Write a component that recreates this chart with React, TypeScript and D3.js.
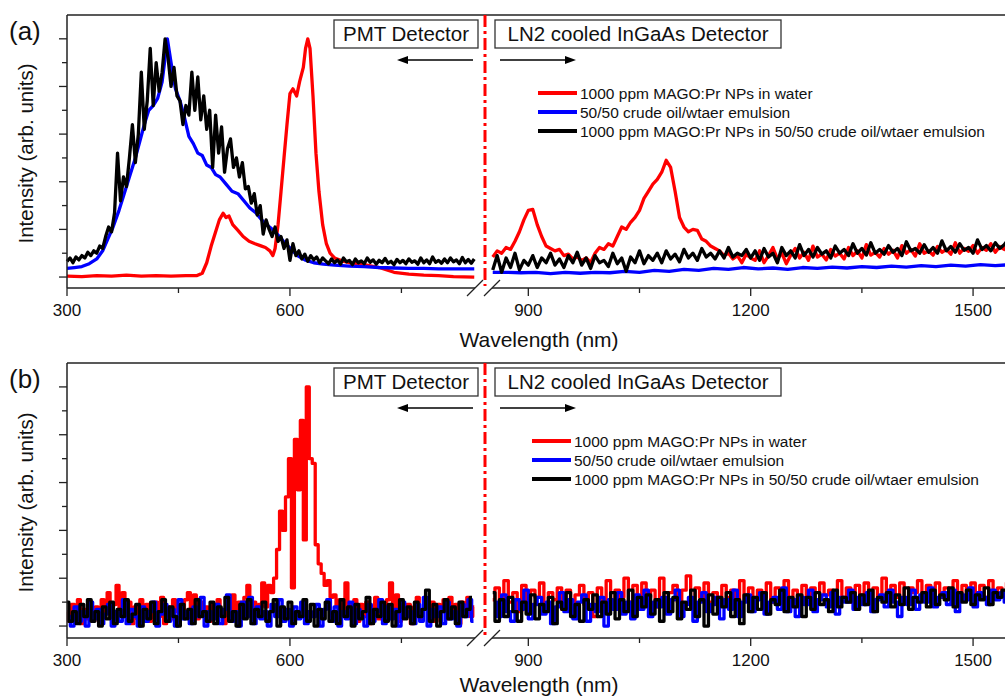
import * as d3 from 'd3'

type Pt = [number, number]
type Series = { pts: Pt[]; stepped?: boolean }

const width = 1005
const height = 698
const font = 'Liberation Sans, Arial, sans-serif'

// x segments of the broken axis (nm)
const leftDomain = [300, 849]
const rightDomain = [851, 1600]
const xMajorLeft = [300, 600]
const xMinorLeft = [450, 750]
const xMajorRight = [900, 1200, 1500]
const xMinorRight = [1050, 1350]
const yMajor = [0, 1, 2, 3, 4, 5]
const yMinor = [0.5, 1.5, 2.5, 3.5, 4.5]

const legendLabels = [
  '1000 ppm MAGO:Pr NPs in water',
  '50/50 crude oil/wtaer emulsion',
  '1000 ppm MAGO:Pr NPs in 50/50 crude oil/wtaer emulsion',
]
const colors = ['#ff0000', '#0000ff', '#000000']

// ---- panel (a) ----
const aRedLeft: Pt[] = [
  [300, 0.02], [320, 0.01], [340, 0.03], [360, 0.02], [380, 0.04], [400, 0.02], [420, 0.03], [440, 0.02],
  [460, 0.03], [475, 0.03], [482, 0.08], [488, 0.3], [494, 0.65], [500, 0.95], [505, 1.2], [510, 1.34],
  [514, 1.25], [518, 1.28], [523, 1.1], [530, 0.98], [537, 0.85], [545, 0.75], [553, 0.7], [560, 0.66],
  [567, 0.62], [573, 0.55], [577, 0.45], [580, 0.6], [584, 1.1], [588, 1.8], [592, 2.5], [596, 3.2],
  [600, 3.85], [604, 3.95], [609, 3.8], [613, 4.1], [618, 4.4], [621, 4.8], [624, 5.0], [627, 4.8],
  [631, 3.8], [635, 2.6], [639, 1.8], [644, 1.1], [649, 0.7], [654, 0.5], [660, 0.4], [670, 0.34],
  [680, 0.3], [700, 0.26], [720, 0.2], [740, 0.1], [760, 0.06], [780, 0.04], [800, 0.03], [820, 0.01],
  [848, 0.0],
]
const aBlueLeft: Pt[] = [
  [300, 0.18], [310, 0.2], [320, 0.22], [330, 0.28], [340, 0.38], [348, 0.55], [355, 0.8], [362, 1.05],
  [370, 1.4], [378, 1.8], [385, 2.15], [392, 2.5], [398, 2.85], [404, 3.2], [410, 3.5], [416, 3.6],
  [422, 3.75], [428, 4.1], [432, 4.6], [435, 5.0], [438, 4.7], [442, 4.3], [446, 3.95], [452, 3.7],
  [458, 3.35], [464, 2.95], [470, 2.8], [476, 2.6], [482, 2.55], [488, 2.35], [494, 2.3], [500, 2.15],
  [506, 2.1], [514, 1.95], [522, 1.8], [530, 1.75], [538, 1.6], [546, 1.45], [554, 1.35], [562, 1.2],
  [570, 1.08], [578, 0.98], [586, 0.85], [594, 0.7], [602, 0.58], [610, 0.45], [620, 0.36], [632, 0.3],
  [645, 0.27], [660, 0.25], [680, 0.23], [700, 0.22], [720, 0.2], [740, 0.19], [760, 0.18], [780, 0.18],
  [800, 0.17], [820, 0.17], [848, 0.17],
]
// 300 nm, every 4 nm
const aBlackLeft = [
  0.33, 0.4, 0.3, 0.42, 0.36, 0.45, 0.4, 0.52, 0.45, 0.55,
  0.5, 0.65, 0.6, 0.85, 1.05, 0.95, 1.35, 2.6, 1.6, 2.1,
  1.9, 2.5, 3.2, 2.4, 3.0, 4.3, 3.1, 3.7, 4.8, 3.6,
  4.5, 3.9, 4.3, 5.0, 4.6, 4.0, 4.4, 3.8, 3.7, 3.2,
  3.6, 3.4, 4.3, 3.5, 4.2, 3.3, 3.8, 3.1, 3.5, 2.3,
  3.4, 2.6, 3.15, 2.2, 2.7, 2.9, 2.3, 2.5, 2.1, 2.4,
  1.85, 1.9, 1.55, 1.75, 1.3, 1.5, 0.9, 1.2, 1.0, 0.85,
  1.05, 0.75, 0.85, 0.6, 0.78, 0.35, 0.7, 0.45, 0.55, 0.38,
  0.48, 0.33, 0.45, 0.36, 0.42, 0.3, 0.4,
  0.34, 0.28, 0.38, 0.3, 0.36, 0.27, 0.4, 0.32, 0.35, 0.26,
  0.38, 0.3, 0.34, 0.28, 0.4, 0.31, 0.36, 0.27, 0.35, 0.3,
  0.39, 0.29, 0.33, 0.26, 0.37, 0.3, 0.35, 0.28, 0.38, 0.31,
  0.34, 0.27, 0.4, 0.3, 0.36, 0.28, 0.42, 0.31, 0.35, 0.29,
  0.38, 0.3, 0.4, 0.32, 0.36, 0.28, 0.41, 0.3, 0.37, 0.29, 0.38,
]
// 852 nm, every 6 nm
const aRedRight = [
  0.42, 0.55, 0.5, 0.62, 0.58, 0.75, 0.95, 1.2, 1.4, 1.42,
  1.1, 0.85, 0.65, 0.6, 0.55, 0.58, 0.45, 0.48, 0.38, 0.42,
  0.35, 0.4, 0.3, 0.5, 0.62, 0.58, 0.7, 0.65, 0.85, 1.05,
  1.0, 1.15, 1.25, 1.4, 1.65, 1.8, 1.95, 2.05, 2.2, 2.45,
  2.3, 1.8, 1.25, 1.05, 0.95, 1.0, 0.98, 0.8, 0.75, 0.65,
  0.6, 0.55, 0.45, 0.5, 0.38, 0.45, 0.3, 0.48, 0.4,
  0.35, 0.55, 0.3, 0.45, 0.62, 0.38, 0.5, 0.28, 0.46, 0.6,
  0.4, 0.52, 0.35, 0.65, 0.42, 0.48, 0.36, 0.58, 0.44, 0.5,
  0.38, 0.62, 0.45, 0.55, 0.4, 0.68, 0.46, 0.52, 0.42, 0.6,
  0.48, 0.56, 0.4, 0.66, 0.5, 0.58, 0.44, 0.7, 0.5, 0.55,
  0.46, 0.64, 0.52, 0.58, 0.48, 0.72, 0.5, 0.6, 0.54, 0.66,
  0.5, 0.62, 0.56, 0.7, 0.52, 0.64, 0.58, 0.72,
]
const aBlueRight: Pt[] = [
  [852, 0.1], [870, 0.1], [890, 0.09], [910, 0.1], [930, 0.07], [950, 0.1], [970, 0.08], [990, 0.1],
  [1010, 0.09], [1030, 0.12], [1050, 0.1], [1070, 0.14], [1090, 0.12], [1110, 0.16], [1130, 0.14],
  [1150, 0.18], [1170, 0.16], [1190, 0.2], [1210, 0.17], [1230, 0.19], [1250, 0.16], [1270, 0.2],
  [1290, 0.18], [1310, 0.21], [1330, 0.19], [1350, 0.22], [1370, 0.2], [1390, 0.23], [1410, 0.21],
  [1430, 0.24], [1450, 0.22], [1470, 0.25], [1490, 0.23], [1510, 0.26], [1530, 0.24], [1550, 0.26],
]
// 852 nm, every 6 nm
const aBlackRight = [
  0.15, 0.45, 0.1, 0.4, 0.2, 0.5, 0.15, 0.35, 0.25, 0.45,
  0.2, 0.4, 0.3, 0.5, 0.25, 0.38, 0.2, 0.45, 0.3, 0.52,
  0.25, 0.4, 0.18, 0.45, 0.3, 0.35, 0.22, 0.5, 0.28, 0.4,
  0.12, 0.42, 0.3, 0.55, 0.28, 0.45, 0.35, 0.5, 0.3, 0.55,
  0.38, 0.48, 0.32, 0.58, 0.4, 0.5, 0.35, 0.6, 0.42, 0.5,
  0.38, 0.55, 0.4, 0.62, 0.42, 0.5, 0.45, 0.58, 0.4,
  0.55, 0.35, 0.6, 0.42, 0.5, 0.3, 0.62, 0.45, 0.55, 0.4,
  0.68, 0.45, 0.58, 0.42, 0.62, 0.48, 0.55, 0.4, 0.65, 0.5,
  0.58, 0.45, 0.7, 0.5, 0.6, 0.46, 0.72, 0.5, 0.58, 0.48,
  0.66, 0.52, 0.6, 0.45, 0.74, 0.55, 0.6, 0.5, 0.68, 0.52,
  0.62, 0.5, 0.76, 0.55, 0.64, 0.52, 0.7, 0.56, 0.62, 0.5,
  0.78, 0.58, 0.66, 0.55, 0.72, 0.6, 0.68, 0.8,
]

// ---- panel (b) ----
// 300 nm, every 4 nm
const bRedLeft = [
  0.3, 0.1, 0.45, 0.2, 0.55, 0.05, 0.35, 0.15, 0.5, 0.25,
  0.4, 0.1, 0.55, 0.3, 0.7, 0.2, 0.45, 0.85, 0.35, 0.7,
  0.2, 0.5, 0.05, 0.4, 0.15, 0.55, 0.25, 0.45, 0.1, 0.35,
  0.5, 0.2, 0.6, 0.05, 0.4, 0.15, 0.55, 0.3, 0.45, 0.2,
  0.55, 0.7, 0.3, 0.65, 0.15, 0.5, 0.25, 0.4, 0.1, 0.45,
  0.2, 0.55, 0.35, 0.05, 0.45, 0.3, 0.65, 0.15, 0.5, 0.25,
  0.6, 0.85, 0.3, 0.5, 0.2, 0.45,
  0.9, 0.4, 0.85, 0.7, 1.0, 1.6, 2.4, 2.0, 2.7, 3.5,
  0.8, 3.9, 2.85, 4.3, 1.8, 5.0, 3.5, 3.4, 1.7, 1.3,
  1.1, 0.85, 0.95, 0.6, 0.65, 0.4, 0.55, 0.3, 0.9, 0.45,
  0.3, 0.55, 0.1, 0.45, 0.2, 0.5, 0.05, 0.35, 0.6, 0.15,
  0.45, 0.25, 0.55, 0.9, 0.3, 0.65, 0.1, 0.5, 0.2, 0.45,
  0.05, 0.4, 0.6, 0.15, 0.35, 0.55, 0.2, 0.5, 0.1, 0.45,
  0.3, 0.55, 0.15, 0.6, 0.25, 0.45, 0.05, 0.5, 0.35, 0.6,
  0.2, 0.4,
]
// 302 nm, every 5 nm
const bBlueLeft = [
  0.2, 0.0, 0.4, 0.1, 0.3, 0.0, 0.5, 0.15, 0.35, 0.05,
  0.25, 0.45, 0.0, 0.3, 0.1, 0.55, 0.05, 0.35, 0.2, 0.0,
  0.4, 0.1, 0.3, 0.5, 0.0, 0.25, 0.45, 0.1, 0.35, 0.0,
  0.55, 0.15, 0.3, 0.05, 0.4, 0.2, 0.6, 0.0, 0.3, 0.15,
  0.45, 0.05, 0.35, 0.65, 0.1, 0.3, 0.0, 0.5, 0.2, 0.6,
  0.05, 0.4, 0.15, 0.3, 0.0, 0.45, 0.2, 0.55, 0.1, 0.35,
  0.0, 0.4, 0.15, 0.5, 0.05, 0.3, 0.2, 0.45, 0.0, 0.35,
  0.55, 0.1, 0.4, 0.0, 0.3, 0.15, 0.5, 0.05, 0.35, 0.2,
  0.0, 0.45, 0.1, 0.3, 0.55, 0.05, 0.4, 0.15, 0.35, 0.0,
  0.5, 0.2, 0.3, 0.05, 0.45, 0.1, 0.6, 0.0, 0.35, 0.2,
  0.4, 0.05, 0.5, 0.15, 0.3, 0.0, 0.45, 0.2, 0.55, 0.1,
]
// 300 nm, every 5 nm
const bBlackLeft = [
  0.5, 0.1, 0.3, 0.05, 0.45, 0.2, 0.55, 0.1, 0.3, 0.0,
  0.4, 0.15, 0.5, 0.05, 0.35, 0.2, 0.55, 0.1, 0.25, 0.45,
  0.0, 0.35, 0.15, 0.5, 0.05, 0.3, 0.55, 0.1, 0.4, 0.2,
  0.0, 0.45, 0.15, 0.35, 0.05, 0.55, 0.2, 0.3, 0.1, 0.5,
  0.05, 0.4, 0.2, 0.6, 0.1, 0.3, 0.0, 0.45, 0.15, 0.55,
  0.05, 0.35, 0.2, 0.5, 0.1, 0.3, 0.55, 0.0, 0.4, 0.15,
  0.5, 0.05, 0.3, 0.2, 0.55, 0.1, 0.45, 0.0, 0.35, 0.15,
  0.5, 0.1, 0.3, 0.05, 0.55, 0.2, 0.4, 0.0, 0.45, 0.15,
  0.3, 0.6, 0.05, 0.35, 0.2, 0.5, 0.1, 0.45, 0.0, 0.3,
  0.55, 0.15, 0.4, 0.05, 0.5, 0.2, 0.35, 0.75, 0.1, 0.45,
  0.0, 0.3, 0.55, 0.15, 0.4, 0.05, 0.5, 0.2, 0.35, 0.6,
]
// 852 nm, every 6 nm
const bRedRight = [
  0.55, 0.8, 0.35, 0.95, 0.5, 0.7, 0.3, 0.85, 0.45, 0.75,
  0.6, 0.9, 0.4, 0.7, 0.55, 0.8, 0.35, 0.75, 0.5, 0.65,
  0.85, 0.45, 0.7, 0.2, 0.8, 0.55, 0.95, 0.4, 0.75, 0.6,
  1.0, 0.5, 0.85, 0.45, 0.9, 0.6, 0.75, 0.4, 1.0, 0.55,
  0.7, 0.85, 0.5, 0.75, 1.05, 0.45, 0.8, 0.6, 0.9, 0.5,
  0.7, 0.45, 0.85, 0.6, 0.75, 0.5, 0.95, 0.55, 0.8, 0.4,
  0.75, 0.6, 0.9, 0.5, 0.8, 0.65, 0.95, 0.55, 0.75, 0.45,
  0.85, 0.6, 0.8, 0.5, 0.9, 0.65, 0.75, 0.55, 0.95, 0.6,
  0.8, 0.5, 0.85, 0.65, 0.9, 0.55, 0.8, 0.6, 1.0, 0.65,
  0.85, 0.6, 0.9, 0.55, 0.8, 0.7, 0.95, 0.6, 0.85, 0.65,
  0.9, 0.6, 0.8, 0.7, 0.95, 0.55, 0.85, 0.65, 0.9, 0.7,
  0.85, 0.6, 0.95, 0.7, 0.8, 0.65, 0.9,
]
// 855 nm, every 6 nm
const bBlueRight = [
  0.5, 0.2, 0.65, 0.3, 0.1, 0.55, 0.35, 0.75, 0.15, 0.45,
  0.6, 0.25, 0.5, 0.05, 0.4, 0.7, 0.3, 0.55, 0.15, 0.5,
  0.65, 0.1, 0.45, 0.3, 0.6, 0.0, 0.55, 0.35, 0.7, 0.25,
  0.5, 0.15, 0.65, 0.35, 0.75, 0.2, 0.5, 0.4, 0.6, 0.25,
  0.55, 0.75, 0.2, 0.45, 0.6, 0.1, 0.5, 0.7, 0.3, 0.45,
  0.6, 0.15, 0.55, 0.35, 0.75, 0.2, 0.5, 0.65, 0.3, 0.55,
  0.7, 0.25, 0.5, 0.6, 0.35, 0.8, 0.3, 0.55, 0.2, 0.6,
  0.45, 0.75, 0.3, 0.55, 0.65, 0.4, 0.7, 0.25, 0.6, 0.5,
  0.75, 0.35, 0.6, 0.45, 0.7, 0.3, 0.55, 0.65, 0.4, 0.75,
  0.5, 0.2, 0.6, 0.45, 0.75, 0.35, 0.65, 0.5, 0.8, 0.4,
  0.6, 0.7, 0.45, 0.75, 0.3, 0.65, 0.55, 0.8, 0.4, 0.7,
  0.6, 0.45, 0.75, 0.55, 0.7, 0.5, 0.65,
]
// 852 nm, every 6 nm
const bBlackRight = [
  0.7, 0.1, 0.55, 0.2, 0.6, 0.3, 0.1, 0.5, 0.25, 0.65,
  0.15, 0.45, 0.3, 0.6, 0.05, 0.5, 0.35, 0.7, 0.2, 0.45,
  0.1, 0.55, 0.35, 0.65, 0.2, 0.5, 0.25, 0.7, 0.15, 0.55,
  0.3, 0.75, 0.2, 0.6, 0.4, 0.65, 0.25, 0.55, 0.1, 0.7,
  0.3, 0.6, 0.15, 0.5, 0.35, 0.75, 0.2, 0.55, 0.0, 0.65,
  0.25, 0.6, 0.4, 0.7, 0.2, 0.55, 0.05, 0.65, 0.3, 0.6,
  0.35, 0.7, 0.25, 0.55, 0.45, 0.75, 0.3, 0.6, 0.4, 0.65,
  0.2, 0.6, 0.35, 0.7, 0.45, 0.55, 0.3, 0.75, 0.4, 0.6,
  0.5, 0.7, 0.35, 0.65, 0.45, 0.75, 0.3, 0.6, 0.5, 0.7,
  0.4, 0.65, 0.45, 0.8, 0.35, 0.6, 0.5, 0.7, 0.4, 0.75,
  0.45, 0.65, 0.55, 0.8, 0.4, 0.7, 0.5, 0.75, 0.45, 0.65,
  0.55, 0.8, 0.45, 0.7, 0.6, 0.75, 0.5,
]

// noisy grids; `stepped` draws them with flat-topped steps like the scan data
const grid = (start: number, step: number, values: number[], stepped = false): Series => ({
  pts: values.map((v, i) => [start + i * step, v] as Pt),
  stepped,
})
const smooth = (pts: Pt[]): Series => ({ pts })

const xLeft = d3.scaleLinear().domain(leftDomain).range([67, 475])
const xRight = d3.scaleLinear().domain(rightDomain).range([492, 1047.2])

const axisColor = '#222'

function Arrow({ x1, x2, y }: { x1: number; x2: number; y: number }) {
  const dir = Math.sign(x2 - x1)
  return (
    <g>
      <line x1={x1} x2={x2 - dir * 8} y1={y} y2={y} stroke="#000" strokeWidth={1.6} />
      <path d={`M${x2},${y} L${x2 - dir * 11},${y - 4} L${x2 - dir * 11},${y + 4} Z`} fill="#000" />
    </g>
  )
}

type PanelProps = {
  top: number
  bottom: number
  yDomain: [number, number]
  label: string
  titleGap: number
  left: Series[]
  right: Series[]
}

function Panel({ top, bottom, yDomain, label, titleGap, left, right }: PanelProps) {
  const y = d3.scaleLinear().domain(yDomain).range([bottom, top])
  const pathFor = (x: d3.ScaleLinear<number, number>, s: Series) =>
    d3
      .line<Pt>()
      .x((d) => x(d[0]))
      .y((d) => y(d[1]))
      .curve(s.stepped ? d3.curveStep : d3.curveLinear)(s.pts) ?? ''
  const midY = (top + bottom) / 2
  const boxTop = top + 5
  const legendY = top + 78
  const legendX = top < 100 ? 538 : 532
  const breakX = [475, 492]

  return (
    <g fontFamily={font} fill="#111">
      {/* data */}
      {left.map((s, i) => (
        <path key={'l' + i} d={pathFor(xLeft, s)} fill="none" stroke={colors[i]} strokeWidth={3.3} strokeLinejoin="round" />
      ))}
      {right.map((s, i) => (
        <path key={'r' + i} d={pathFor(xRight, s)} fill="none" stroke={colors[i]} strokeWidth={3.3} strokeLinejoin="round" />
      ))}

      {/* frame */}
      <line x1={67} x2={width} y1={top} y2={top} stroke={axisColor} strokeWidth={1.5} />
      <line x1={67} x2={67} y1={top} y2={bottom} stroke={axisColor} strokeWidth={1.5} />
      <line x1={67} x2={breakX[0]} y1={bottom} y2={bottom} stroke={axisColor} strokeWidth={1.5} />
      <line x1={breakX[1]} x2={width} y1={bottom} y2={bottom} stroke={axisColor} strokeWidth={1.5} />
      {breakX.map((bx) => (
        <line key={bx} x1={bx - 8} x2={bx + 8} y1={bottom + 8} y2={bottom - 8} stroke={axisColor} strokeWidth={1.2} />
      ))}

      {/* y ticks */}
      {yMajor.map((v) => (
        <line key={'ym' + v} x1={59} x2={67} y1={y(v)} y2={y(v)} stroke={axisColor} strokeWidth={1.3} />
      ))}
      {yMinor.map((v) => (
        <line key={'yn' + v} x1={62} x2={67} y1={y(v)} y2={y(v)} stroke={axisColor} strokeWidth={1.3} />
      ))}

      {/* x ticks */}
      {xMajorLeft.map((v) => (
        <line key={'xl' + v} x1={xLeft(v)} x2={xLeft(v)} y1={bottom} y2={bottom + 8} stroke={axisColor} strokeWidth={1.3} />
      ))}
      {xMinorLeft.map((v) => (
        <line key={'xln' + v} x1={xLeft(v)} x2={xLeft(v)} y1={bottom} y2={bottom + 5} stroke={axisColor} strokeWidth={1.3} />
      ))}
      {xMajorRight.map((v) => (
        <line key={'xr' + v} x1={xRight(v)} x2={xRight(v)} y1={bottom} y2={bottom + 8} stroke={axisColor} strokeWidth={1.3} />
      ))}
      {xMinorRight.map((v) => (
        <line key={'xrn' + v} x1={xRight(v)} x2={xRight(v)} y1={bottom} y2={bottom + 5} stroke={axisColor} strokeWidth={1.3} />
      ))}
      {xMajorLeft.map((v) => (
        <text key={'tl' + v} x={xLeft(v)} y={bottom + 28} fontSize={17} textAnchor="middle">{v}</text>
      ))}
      {xMajorRight.map((v) => (
        <text key={'tr' + v} x={xRight(v)} y={bottom + 28} fontSize={17} textAnchor="middle">{v}</text>
      ))}

      {/* axis titles */}
      <text x={539} y={bottom + titleGap} fontSize={21} textAnchor="middle">Wavelength (nm)</text>
      <text transform={`translate(33,${midY + 2}) rotate(-90)`} fontSize={20.5} textAnchor="middle">
        Intensity (arb. units)
      </text>
      <text x={9} y={top + 25} fontSize={26}>{label}</text>

      {/* detector boundary */}
      <line x1={485} x2={485} y1={top} y2={bottom - 2} stroke="#ff0000" strokeWidth={3} strokeDasharray="12,4,3,4" />

      {/* detector boxes */}
      <rect x={334} y={boxTop} width={144} height={28} fill="#fff" stroke="#333" strokeWidth={1.3} />
      <text x={406} y={boxTop + 21} fontSize={20.5} textAnchor="middle">PMT Detector</text>
      <rect x={495} y={boxTop} width={286} height={28} fill="#fff" stroke="#333" strokeWidth={1.3} />
      <text x={638} y={boxTop + 21} fontSize={20.5} textAnchor="middle">LN2 cooled InGaAs Detector</text>
      <Arrow x1={473} x2={397} y={top + 45} />
      <Arrow x1={500} x2={576} y={top + 45} />

      {/* legend */}
      {legendLabels.map((t, i) => (
        <g key={t}>
          <line x1={legendX} x2={legendX + 39} y1={legendY + i * 19} y2={legendY + i * 19} stroke={colors[i]} strokeWidth={4} />
          <text x={legendX + 42} y={legendY + i * 19 + 6} fontSize={15.5}>{t}</text>
        </g>
      ))}
    </g>
  )
}

export default function App() {
  return (
    <svg width={width} height={height} style={{ position: 'absolute', left: 0, top: 0, background: '#fff' }}>
      <rect width={width} height={height} fill="#fff" />
      <Panel
        top={15}
        bottom={288}
        yDomain={[-0.23, 5.5]}
        label="(a)"
        titleGap={59}
        left={[smooth(aRedLeft), smooth(aBlueLeft), grid(300, 4, aBlackLeft)]}
        right={[grid(852, 6, aRedRight), smooth(aBlueRight), grid(852, 6, aBlackRight)]}
      />
      <Panel
        top={363}
        bottom={638}
        yDomain={[-0.25, 5.5]}
        label="(b)"
        titleGap={54}
        left={[grid(300, 4, bRedLeft, true), grid(302, 5, bBlueLeft, true), grid(300, 5, bBlackLeft, true)]}
        right={[grid(852, 6, bRedRight, true), grid(855, 6, bBlueRight, true), grid(852, 6, bBlackRight, true)]}
      />
    </svg>
  )
}
